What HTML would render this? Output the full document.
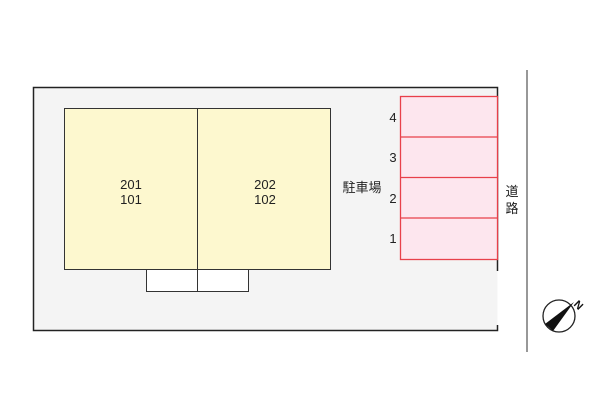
<!DOCTYPE html>
<html><head><style>body{margin:0;background:#fff;width:600px;height:400px;overflow:hidden}</style></head>
<body>
<svg width="600" height="400" xmlns="http://www.w3.org/2000/svg" font-family="Liberation Sans, Noto Sans CJK JP, sans-serif">
<rect x="33.5" y="87.5" width="464" height="243" fill="#f4f4f4" stroke="none"/>
<path d="M497.5 325 V330.5 H33.5 V87.5 H497.5 V271" fill="none" stroke="#222" stroke-width="1.5"/>
<rect x="64.5" y="108.5" width="266" height="161" fill="#fdf8cf" stroke="#333"/>
<line x1="197.5" y1="108.5" x2="197.5" y2="292" stroke="#333"/>
<rect x="146.5" y="269.5" width="102" height="22" fill="#fff" stroke="#333"/>
<line x1="197.5" y1="269.5" x2="197.5" y2="292" stroke="#333"/>
<g font-size="13" fill="#222" text-anchor="middle">
<text x="131" y="189">201</text><text x="131" y="204">101</text>
<text x="265" y="189">202</text><text x="265" y="204">102</text>
</g>
<rect x="400.5" y="96.5" width="97" height="163" fill="#fde6ee" stroke="#e8404a" stroke-width="1.3"/>
<g stroke="#e8404a" stroke-width="1.3"><line x1="400" y1="137" x2="497" y2="137"/><line x1="400" y1="177.5" x2="497" y2="177.5"/><line x1="400" y1="218" x2="497" y2="218"/></g>
<g font-size="13" fill="#222" text-anchor="middle">
<text x="393" y="122">4</text><text x="393" y="162">3</text><text x="393" y="203">2</text><text x="393" y="243">1</text>
</g>
<text x="362" y="192" font-size="13" fill="#222" text-anchor="middle">駐車場</text>
<line x1="527" y1="70" x2="527" y2="352" stroke="#777" stroke-width="1.5"/>
<text x="512" y="196" font-size="13" fill="#222" text-anchor="middle">道</text>
<text x="512" y="213" font-size="13" fill="#222" text-anchor="middle">路</text>
<circle cx="559" cy="316" r="16" fill="#fff" stroke="#222" stroke-width="1.3"/>
<polygon points="545,324 574,302 553,331" fill="#111"/>
<text x="576" y="306" font-size="11" font-weight="bold" fill="#111" transform="rotate(45 576 302)">N</text>
</svg>
</body></html>
